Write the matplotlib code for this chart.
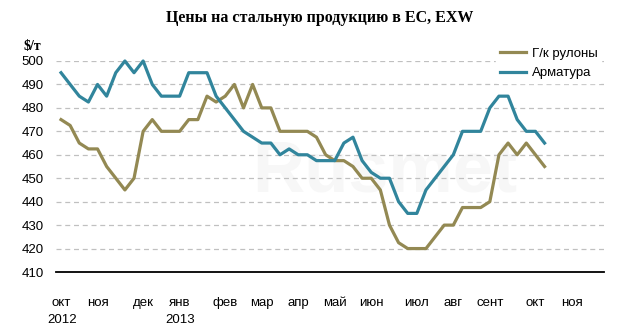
import matplotlib.pyplot as plt
import matplotlib.transforms as mtransforms

# weekly prices, $/t
coil = [475, 472.5, 465, 462.5, 462.5, 455, 450, 445, 450, 470,
        475, 470, 470, 470, 475, 475, 485, 482.5, 485, 490,
        480, 490, 480, 480, 470, 470, 470, 470, 467.5, 460,
        457.5, 457.5, 455, 450, 450, 445, 430, 422.5, 420, 420,
        420, 425, 430, 430, 437.5, 437.5, 437.5, 440, 460, 465,
        460, 465, 460, 455]
rebar = [495, 490, 485, 482.5, 490, 485, 495, 500, 495, 500,
         490, 485, 485, 485, 495, 495, 495, 485, 480, 475,
         470, 467.5, 465, 465, 460, 462.5, 460, 460, 457.5, 457.5,
         457.5, 465, 467.5, 457.5, 452.5, 450, 450, 440, 435, 435,
         445, 450, 455, 460, 470, 470, 470, 480, 485, 485,
         475, 470, 470, 465]

n_weeks = 60
month_pos = [0, 4, 9, 13, 18, 22, 26, 30, 34, 39, 43, 47, 52, 56]
month_labels = ["окт", "ноя", "дек", "янв", "фев", "мар", "апр", "май",
                "июн", "июл", "авг", "сент", "окт", "ноя"]
year_pos = [0, 13]
year_labels = ["2012", "2013"]

olive = "#938953"
teal = "#31859C"

plt.rcParams['font.family'] = ['Liberation Sans', 'DejaVu Sans']

fig = plt.figure(figsize=(6.31, 3.34), dpi=100)
ax = fig.add_axes([0.0895, 0.1856, 0.8675, 0.6318])

# faint watermark
ax.text(0.60, 0.47, "Rusmet", transform=ax.transAxes, fontsize=52,
        color="#f7f7f7", ha="center", va="center", fontweight="bold", zorder=0)

ax.plot(range(len(coil)), coil, color=olive, lw=2.3, label="Г/к рулоны",
        clip_on=False, zorder=3)
ax.plot(range(len(rebar)), rebar, color=teal, lw=2.3, label="Арматура",
        clip_on=False, zorder=3)

ax.set_xlim(-0.5, n_weeks - 0.5)
ax.set_ylim(410, 500)
ax.set_yticks(range(410, 501, 10))
ax.yaxis.grid(True, color="#c0c0c0", ls=(0, (4, 3)), lw=0.9)
ax.set_axisbelow(True)

for s in ["top", "right", "left"]:
    ax.spines[s].set_visible(False)
ax.spines["bottom"].set_color("black")
ax.spines["bottom"].set_linewidth(1.3)

ax.set_xticks(month_pos)
ax.set_xticklabels(month_labels)
ax.tick_params(axis="both", length=0, labelsize=9.5, colors="black")
ax.tick_params(axis="x", pad=18)
ax.tick_params(axis="y", pad=9)

trans = mtransforms.blended_transform_factory(ax.transData, fig.transFigure)
for p, lab in zip(year_pos, year_labels):
    ax.text(p + 0.1, 0.025, lab, transform=trans, ha="center", va="bottom",
            fontsize=9.5)

fig.text(0.051, 0.862, "$/т", fontsize=10, fontweight="bold",
         family=["Liberation Serif", "DejaVu Serif"], ha="center", va="center")
fig.text(0.506, 0.945, "Цены на стальную продукцию в ЕС, EXW", fontsize=11.5,
         fontweight="bold", family=["Liberation Serif", "DejaVu Serif"],
         ha="center", va="center")

leg = ax.legend(loc="upper left", bbox_to_anchor=(0.803, 1.082), frameon=True,
                fontsize=9.5, handlelength=2.0, handletextpad=0.4,
                labelspacing=0.55, borderpad=0.3, borderaxespad=0.0)
leg.get_frame().set_edgecolor("white")
leg.get_frame().set_facecolor("white")
leg.get_frame().set_alpha(1)
leg.set_zorder(5)

fig.savefig("out.png", dpi=100)
